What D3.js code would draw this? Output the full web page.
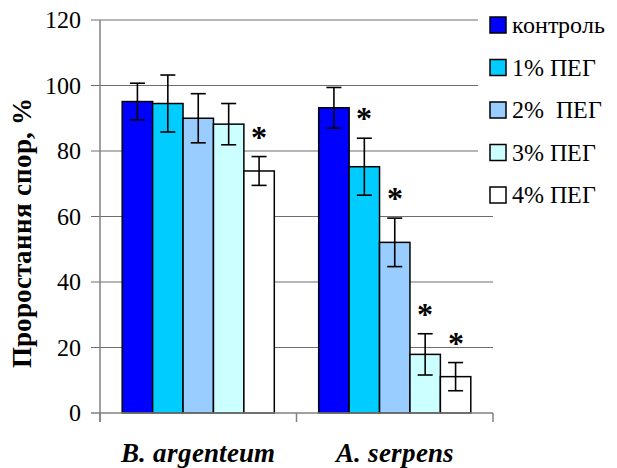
<!DOCTYPE html>
<html>
<head>
<meta charset="utf-8">
<script src="https://cdn.jsdelivr.net/npm/d3@7"></script>
<style>
  @font-face { font-family: "ChartSerif"; font-weight: 400; font-style: normal; src: local("Liberation Serif"), local("LiberationSerif"), local("Liberation Serif Regular"), local("LiberationSerif-Regular"); }
  @font-face { font-family: "ChartSerif"; font-weight: 700; font-style: normal; src: local("Liberation Serif Bold"), local("LiberationSerif-Bold"); }
  @font-face { font-family: "ChartSerif"; font-weight: 700; font-style: italic; src: local("Liberation Serif Bold Italic"), local("LiberationSerif-BoldItalic"); }
  html, body { margin: 0; padding: 0; background: #fff; }
  svg { display: block; }
</style>
</head>
<body>
<svg id="chart" width="617" height="468"></svg>
<script>
// ---- data ----
const categories = ["B. argenteum", "A. serpens"];
const seriesNames = ["контроль", "1% ПЕГ", "2%  ПЕГ", "3% ПЕГ", "4% ПЕГ"];
const seriesColors = ["#0000FF", "#00CCFF", "#99CCFF", "#CCFFFF", "#FFFFFF"];
// values[series][category]
const values = [
  [95.1, 93.2],
  [94.5, 75.2],
  [90.0, 52.1],
  [88.2, 17.9],
  [73.9, 11.1]
];
const errors = [
  [5.6, 6.2],
  [8.7, 8.7],
  [7.5, 7.4],
  [6.3, 6.3],
  [4.4, 4.3]
];
const significant = [
  [false, false],
  [false, true],
  [false, true],
  [false, true],
  [true, true]
];
const yTicks = [0, 20, 40, 60, 80, 100, 120];

// ---- layout ----
const svg = d3.select("#chart");
const setFont = sel => sel.style("font-family", '"ChartSerif", "Liberation Serif", "Times New Roman", Tinos, Times');
const pLeft = 100, pRight = 493, pTop = 20, pBottom = 413;

const x0 = d3.scaleBand().domain(categories).range([pLeft, pRight]).padding(0);
const x1 = d3.scaleBand().domain(d3.range(seriesNames.length))
  .range([0, x0.bandwidth()]).paddingInner(0).paddingOuter(0.73);
const y = d3.scaleLinear().domain([0, 120]).range([pBottom, pTop]);

const axisColor = "#808080";
const gridColor = "#6e6e6e";

// gridlines (also serve as left ticks)
svg.append("g").selectAll("line").data(yTicks.filter(d => d > 0)).join("line")
  .attr("x1", pLeft - 9).attr("x2", pRight)
  .attr("y1", d => y(d)).attr("y2", d => y(d))
  .attr("stroke", gridColor).attr("stroke-width", 1.2);

// y tick labels
svg.append("g").selectAll("text").data(yTicks).join("text")
  .call(setFont)
  .attr("x", 81).attr("y", d => y(d) + 8)
  .attr("text-anchor", "end").attr("font-size", 24)
  .text(d => d);

// bars
const cells = [];
seriesNames.forEach((s, i) => categories.forEach((c, j) => cells.push({ i, j, c })));

const cellX = d => x0(d.c) + x1(d.i);
svg.append("g").selectAll("rect").data(cells).join("rect")
  .attr("x", cellX)
  .attr("y", d => y(values[d.i][d.j]))
  .attr("width", x1.bandwidth())
  .attr("height", d => y(0) - y(values[d.i][d.j]))
  .attr("fill", d => seriesColors[d.i])
  .attr("stroke", "#000").attr("stroke-width", 1.5);

// error bars
const eb = svg.append("g").attr("stroke", "#000").attr("stroke-width", 1.6);
cells.forEach(d => {
  const cx = cellX(d) + x1.bandwidth() / 2;
  const v = values[d.i][d.j], e = errors[d.i][d.j];
  eb.append("line").attr("x1", cx).attr("x2", cx).attr("y1", y(v + e)).attr("y2", y(v - e));
  eb.append("line").attr("x1", cx - 7.5).attr("x2", cx + 7.5).attr("y1", y(v + e)).attr("y2", y(v + e));
  eb.append("line").attr("x1", cx - 7.5).attr("x2", cx + 7.5).attr("y1", y(v - e)).attr("y2", y(v - e));
});

// asterisks
svg.append("g").selectAll("text").data(cells.filter(d => significant[d.i][d.j])).join("text")
  .call(setFont)
  .attr("x", d => cellX(d) + x1.bandwidth() / 2)
  .attr("y", d => y(values[d.i][d.j] + errors[d.i][d.j]) - 24 + 15)
  .attr("text-anchor", "middle").attr("font-size", 32).attr("font-weight", "bold")
  .text("*");

// axes
svg.append("line").attr("x1", pLeft).attr("x2", pLeft).attr("y1", pTop).attr("y2", pBottom + 9)
  .attr("stroke", axisColor).attr("stroke-width", 1.5);
svg.append("line").attr("x1", pLeft - 9).attr("x2", pRight).attr("y1", pBottom).attr("y2", pBottom)
  .attr("stroke", axisColor).attr("stroke-width", 1.5);
const catTicks = categories.map(c => x0(c)).concat([pRight]);
svg.append("g").selectAll("line").data(catTicks).join("line")
  .attr("x1", d => d).attr("x2", d => d).attr("y1", pBottom).attr("y2", pBottom + 9)
  .attr("stroke", axisColor).attr("stroke-width", 1.5);

// category labels
svg.append("g").selectAll("text").data(categories).join("text")
  .call(setFont)
  .attr("x", d => x0(d) + x0.bandwidth() / 2).attr("y", 462)
  .attr("text-anchor", "middle").attr("font-size", 26.5)
  .attr("font-weight", "bold").attr("font-style", "italic")
  .text(d => d);

// y title
svg.append("text")
  .call(setFont)
  .attr("transform", "translate(31,233) rotate(-90)")
  .attr("text-anchor", "middle").attr("font-size", 27).attr("font-weight", "bold")
  .text("Проростання спор, %");

// legend
const lg = svg.append("g");
lg.append("rect").attr("x", 478).attr("y", 0).attr("width", 139).attr("height", 212).attr("fill", "#fff");
seriesNames.forEach((s, i) => {
  const by = 17 + i * 42.5;
  lg.append("rect").attr("x", 490).attr("y", by).attr("width", 16).attr("height", 16)
    .attr("fill", seriesColors[i]).attr("stroke", "#000").attr("stroke-width", 1.5);
  lg.append("text").call(setFont).attr("x", 512).attr("y", by + 16).attr("font-size", 24)
    .style("white-space", "pre").text(s);
});
</script>
</body>
</html>
